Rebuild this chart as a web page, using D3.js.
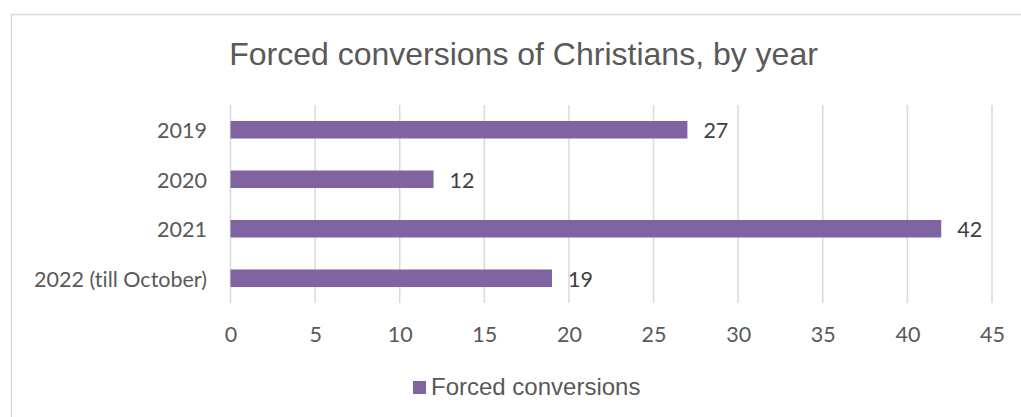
<!DOCTYPE html>
<html>
<head>
<meta charset="utf-8">
<script src="https://cdn.jsdelivr.net/npm/d3@7"></script>
<style>
  body { margin: 0; background: #fff; }
  text { font-variant-ligatures: none; }
</style>
</head>
<body>
<div id="chart"></div>
<script>
var categories = ["2019", "2020", "2021", "2022 (till October)"];
var conversions = [27, 12, 42, 19];
var xTicks = [0, 5, 10, 15, 20, 25, 30, 35, 40, 45];
var seriesName = "Forced conversions";
var chartTitle = "Forced conversions of Christians, by year";

var width = 1021, height = 417;
var barColor = "#8064A2";
var plot = { left: 230.5, right: 992, top: 105, bottom: 303 };

var svg = d3.select("#chart")
    .append("svg")
    .attr("width", width)
    .attr("height", height);

// chart border (runs off the right/bottom edge like the screenshot)
svg.append("rect")
    .attr("x", 11.5)
    .attr("y", 14.5)
    .attr("width", 1040)
    .attr("height", 440)
    .attr("fill", "#fff")
    .attr("stroke", "#d9d9d9")
    .attr("stroke-width", 1.5);

svg.append("text")
    .attr("x", 523.5)
    .attr("y", 65)
    .attr("text-anchor", "middle")
    .style("font-family", "'Liberation Sans', Arial, sans-serif")
    .style("font-size", "32px")
    .attr("fill", "#595959")
    .text(chartTitle);

var xscale = d3.scaleLinear()
    .domain([0, 45])
    .range([plot.left, plot.right]);

var yscale = d3.scaleBand()
    .domain(categories)
    .range([plot.top, plot.bottom])
    .paddingInner(0.646)
    .paddingOuter(0.323);

// vertical gridlines
svg.append("g")
    .selectAll("line")
    .data(xTicks)
    .enter()
    .append("line")
    .attr("x1", d => xscale(d))
    .attr("x2", d => xscale(d))
    .attr("y1", plot.top)
    .attr("y2", plot.bottom)
    .attr("stroke", "#d9d9d9")
    .attr("stroke-width", 1.5);

var labelFont = "Lato, 'Open Sans', sans-serif";
var labelSize = "21.5px";

// x axis labels
var xAxis = svg.append("g")
    .attr("transform", "translate(0," + (plot.bottom + 38.5) + ")")
    .call(d3.axisBottom(xscale).tickValues(xTicks).tickSize(0).tickPadding(0));
xAxis.select(".domain").remove();
xAxis.selectAll("text")
    .attr("y", 0)
    .attr("dy", 0)
    .style("font-family", labelFont)
    .style("font-size", labelSize)
    .attr("fill", "#595959");

// y axis labels
var yAxis = svg.append("g")
    .attr("transform", "translate(" + 207 + ",0)")
    .call(d3.axisLeft(yscale).tickSize(0).tickPadding(0));
yAxis.select(".domain").remove();
yAxis.selectAll("text")
    .attr("dy", "0.4em")
    .style("font-family", labelFont)
    .style("font-size", labelSize)
    .attr("fill", "#595959");

// bars
svg.append("g")
    .selectAll("rect")
    .data(categories)
    .enter()
    .append("rect")
    .attr("x", xscale(0))
    .attr("y", d => yscale(d))
    .attr("width", (d, i) => xscale(conversions[i]) - xscale(0))
    .attr("height", yscale.bandwidth())
    .attr("fill", barColor);

// data labels
svg.append("g")
    .selectAll("text")
    .data(categories)
    .enter()
    .append("text")
    .attr("x", (d, i) => xscale(conversions[i]) + 16)
    .attr("y", d => yscale(d) + yscale.bandwidth() / 2)
    .attr("dy", "0.4em")
    .style("font-family", labelFont)
    .style("font-size", labelSize)
    .attr("fill", "#404040")
    .text((d, i) => conversions[i]);

// legend
var legend = svg.append("g");
legend.append("rect")
    .attr("x", 413)
    .attr("y", 381)
    .attr("width", 13)
    .attr("height", 13)
    .attr("fill", barColor);
legend.append("text")
    .attr("x", 431)
    .attr("y", 395)
    .style("font-family", "'Liberation Sans', Arial, sans-serif")
    .style("font-size", "24px")
    .attr("fill", "#595959")
    .text(seriesName);
</script>
</body>
</html>
